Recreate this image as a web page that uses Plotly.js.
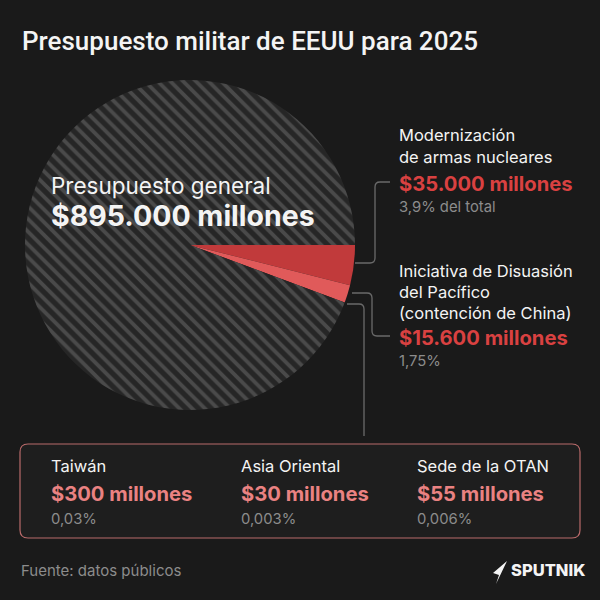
<!DOCTYPE html>
<html>
<head>
<meta charset="utf-8">
<script src="https://cdn.plot.ly/plotly-3.0.1.min.js"></script>
<style>
	body { margin: 0; background: #1a1a1a; }
	#chart { width: 600px; height: 600px; }
</style>
</head>
<body>
<div id="chart"></div>
<script>
// Data
var totalBudget  = 895000;	// millones USD
var sliceLabels  = [ "Modernización de armas nucleares", "Iniciativa de Disuasión del Pacífico", "Resto del presupuesto" ];
var sliceValues  = [ 35000, 15600, totalBudget - 35000 - 15600 ];
var sliceColors  = [ "#c13a3b", "#e05a5a", "#262626" ];

var boxNames   = [ "Taiwán", "Asia Oriental", "Sede de la OTAN" ];
var boxAmounts = [ "$300 millones", "$30 millones", "$55 millones" ];
var boxShares  = [ "0,03%", "0,003%", "0,006%" ];

// Colours
var bg     = "#1a1a1a",
	white  = "#f4f4f4",
	grey   = "#8c8c8c",
	red    = "#d94141",
	pink   = "#ea8282",
	lineC  = "#6a6a6a";

var font = "Inter, 'Noto Sans', sans-serif";

var pieTrace = {
	type: "pie",
	labels: sliceLabels,
	values: sliceValues,
	sort: false,
	direction: "clockwise",
	rotation: 90,
	textinfo: "none",
	hoverinfo: "skip",
	domain: { x: [ 25 / 600, 355 / 600 ], y: [ 1 - 410 / 600, 1 - 80 / 600 ] },
	marker: {
		colors: sliceColors,
		line: { width: 0 },
		pattern: {
			shape: [ "", "", "\\" ],
			fgcolor: [ sliceColors[ 0 ], sliceColors[ 1 ], "#4a4a4a" ],
			bgcolor: sliceColors,
			size: 9,
			solidity: 0.42,
			fillmode: "replace"
		}
	},
	showlegend: false
};

function txt( x, y, text, size, color, weight, family )
{
	return {
		x: x, y: y, xref: "x", yref: "y",
		text: text,
		showarrow: false,
		xanchor: "left", yanchor: "middle",
		font: { family: family || font, size: size, color: color, weight: weight || 400 }
	};
}

var annotations = [
	txt( 20, 41, "Presupuesto militar de EEUU para 2025", 26, white, 500, "Roboto, sans-serif" ),

	txt( 49, 185, "Presupuesto general", 22.5, white ),
	txt( 49, 215, "$895.000 millones", 28.5, white, 700 ),

	txt( 397, 135, "Modernización", 16.5, white ),
	txt( 397, 157, "de armas nucleares", 16.5, white ),
	txt( 397, 183, "$35.000 millones", 20.2, red, 700 ),
	txt( 397, 207, "3,9% del total", 14.8, grey ),

	txt( 397, 271, "Iniciativa de Disuasión", 16.5, white ),
	txt( 397, 292, "del Pacífico", 16.5, white ),
	txt( 397, 313, "(contención de China)", 16.5, white ),
	txt( 397, 337, "$15.600 millones", 20.2, red, 700 ),
	txt( 397, 361, "1,75%", 14.8, grey ),

	txt( 19, 570, "Fuente: datos públicos", 15, grey ),
	txt( 509, 570, "SPUTNIK", 16.5, white, 800 )
];

var boxX = [ 49, 239, 415 ];
for( let i = 0; i < boxNames.length; i++ )
{
	annotations.push( txt( boxX[ i ], 466, boxNames[ i ], 16.5, white ) );
	annotations.push( txt( boxX[ i ], 493, boxAmounts[ i ], 20.2, pink, 700 ) );
	annotations.push( txt( boxX[ i ], 519, boxShares[ i ], 14.8, grey ) );
}

var lineStyle = { color: lineC, width: 1.3 };

var shapes = [
	// bracket for nuclear modernisation
	{ type: "path", xref: "x", yref: "y", line: lineStyle,
	  path: "M 390 182 L 380 182 Q 375 182 375 187 L 375 258 Q 375 263 370 263 L 355 263" },
	// bracket for Pacific initiative
	{ type: "path", xref: "x", yref: "y", line: lineStyle,
	  path: "M 352 293 L 367 293 Q 372 293 372 298 L 372 331 Q 372 336 377 336 L 390 336" },
	// line down to the box
	{ type: "path", xref: "x", yref: "y", line: lineStyle,
	  path: "M 347 304 L 359 304 Q 364 304 364 309 L 364 436" },
	// box
	{ type: "path", xref: "x", yref: "y", layer: "below",
	  line: { color: "#b86a6a", width: 1.2 }, fillcolor: "#1e1e1e",
	  path: "M 28 444 L 572 444 Q 580 444 580 452 L 580 530 Q 580 538 572 538 L 28 538 Q 20 538 20 530 L 20 452 Q 20 444 28 444 Z" },
	// sputnik arrow mark
	{ type: "path", xref: "x", yref: "y", line: { width: 0 }, fillcolor: white,
	  path: "M 507 561 L 493 573 L 499 575 L 496 584 Z" }
];

var layout = {
	width: 600,
	height: 600,
	margin: { l: 0, r: 0, t: 0, b: 0 },
	paper_bgcolor: bg,
	plot_bgcolor: bg,
	xaxis: { range: [ 0, 600 ], visible: false, fixedrange: true },
	yaxis: { range: [ 600, 0 ], visible: false, fixedrange: true },
	annotations: annotations,
	shapes: shapes,
	showlegend: false
};

Plotly.newPlot( "chart", [ pieTrace ], layout, { staticPlot: true } );
</script>
</body>
</html>
